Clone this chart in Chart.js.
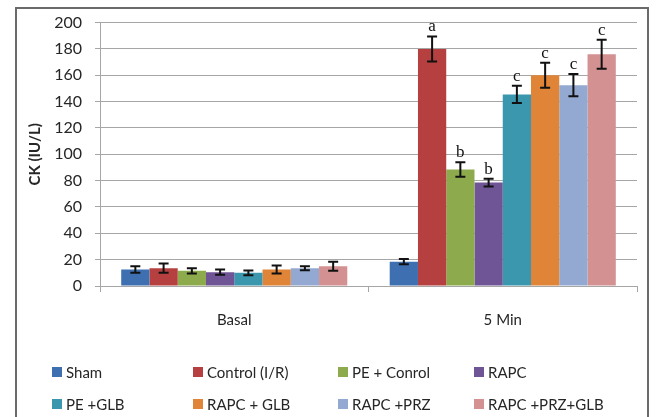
<!DOCTYPE html>
<html>
<head>
<meta charset="utf-8">
<script src="https://cdn.jsdelivr.net/npm/chart.js@4.4.1/dist/chart.umd.min.js"></script>
<style>
  html, body { margin: 0; padding: 0; background: #fff; }
  #wrap { position: relative; width: 659px; height: 417px; overflow: hidden; background: #fff; }
  #c { position: absolute; left: 0; top: 0; }
  #frame { position: absolute; left: 15px; top: 7px; width: 634px; height: 430px;
           border: 2px solid #6a6a6a; box-sizing: border-box; pointer-events: none; }
  #legend { position: absolute; left: 0; top: 0; width: 659px; height: 417px; pointer-events: none;
            font-family: Lato, "Open Sans", sans-serif; font-size: 15px; color: #262626; }
  .li { position: absolute; display: flex; align-items: center; white-space: nowrap; transform: translateY(-50%); }
  .sw { width: 10px; height: 10px; margin-right: 4px; }
</style>
</head>
<body>
<div id="wrap">
  <canvas id="c" width="659" height="417"></canvas>
  <div id="frame"></div>
  <div id="legend"></div>
</div>
<script>
// ---- data ----
const categories = ['Basal', '5 Min'];
const seriesNames = ['Sham', 'Control (I/R)', 'PE + Conrol', 'RAPC', 'PE +GLB', 'RAPC + GLB', 'RAPC +PRZ', 'RAPC +PRZ+GLB'];
const basalValues = [12.5, 13.5, 11.5, 10.5, 10, 12.5, 13.5, 15];
const basalErrors = [2.5, 3.5, 2, 2, 1.8, 3, 1.5, 3.5];
const fiveMinValues = [18.5, 180, 88.5, 78.5, 145.5, 160, 152.5, 176];
const fiveMinErrors = [2, 9.5, 5.5, 3, 6.5, 9.5, 8.5, 11];
const fiveMinLetters = ['', 'a', 'b', 'b', 'c', 'c', 'c', 'c'];
const yTicks = [0, 20, 40, 60, 80, 100, 120, 140, 160, 180, 200];
const colors = ['#3d6fb1', '#b5403f', '#8dab4d', '#6f5595', '#3a97ae', '#e08437', '#93a9d2', '#d49191'];

const datasets = seriesNames.map((name, i) => ({
  label: name,
  data: [basalValues[i], fiveMinValues[i]],
  errors: [basalErrors[i], fiveMinErrors[i]],
  letters: ['', fiveMinLetters[i]],
  backgroundColor: colors[i],
  borderWidth: 0,
  categoryPercentage: 0.842,
  barPercentage: 1.0
}));

const errorBarPlugin = {
  id: 'errorBars',
  afterDatasetsDraw(chart) {
    const ctx = chart.ctx;
    const y = chart.scales.y;
    ctx.save();
    chart.data.datasets.forEach((ds, i) => {
      const meta = chart.getDatasetMeta(i);
      meta.data.forEach((bar, j) => {
        const v = ds.data[j], e = ds.errors[j];
        const top = y.getPixelForValue(v + e);
        const bot = y.getPixelForValue(v - e);
        const x = bar.x;
        ctx.strokeStyle = '#111';
        ctx.lineWidth = 2;
        ctx.beginPath();
        ctx.moveTo(x, top); ctx.lineTo(x, bot);
        ctx.moveTo(x - 5, top); ctx.lineTo(x + 5, top);
        ctx.moveTo(x - 5, bot); ctx.lineTo(x + 5, bot);
        ctx.stroke();
        const letter = ds.letters[j];
        if (letter) {
          ctx.fillStyle = '#111';
          ctx.font = '17px "Liberation Serif", "DejaVu Serif", serif';
          ctx.textAlign = 'center';
          ctx.textBaseline = 'alphabetic';
          ctx.fillText(letter, x, top - 5);
        }
      });
    });
    ctx.restore();
  }
};

const gridColor = '#a6a6a6';
const textColor = '#262626';

new Chart(document.getElementById('c'), {
  type: 'bar',
  data: { labels: categories, datasets },
  options: {
    responsive: false,
    animation: false,
    devicePixelRatio: 1,
    layout: { padding: { left: 16, top: 22, right: 22, bottom: 91 } },
    plugins: { legend: { display: false }, tooltip: { enabled: false } },
    scales: {
      x: {
        grid: { display: true, drawOnChartArea: false, drawTicks: true, tickLength: 6, color: gridColor, offset: true },
        border: { display: true, color: gridColor, width: 1 },
        ticks: { color: textColor, font: { family: 'Lato', size: 15 }, padding: 19 },
        afterFit(scale) { scale.height = 40; }
      },
      y: {
        min: 0, max: 200,
        afterBuildTicks(scale) { scale.ticks = yTicks.map(v => ({ value: v })); },
        grid: { color: gridColor, lineWidth: 1, tickLength: 5, drawTicks: true },
        border: { display: true, color: gridColor, width: 1 },
        ticks: { color: textColor, font: { family: 'Lato', size: 16 }, padding: 13 },
        title: { display: true, text: 'CK (IU/L)', color: textColor,
                 font: { family: 'Lato', size: 15, weight: 'bold' }, padding: { top: 10, bottom: 0 } },
        afterFit(scale) { scale.width = 84; }
      }
    }
  },
  plugins: [errorBarPlugin]
});

// ---- HTML legend (4 columns x 2 rows) ----
const legendCols = [52, 193, 338, 474];
const legendRows = [372, 404];
const legend = document.getElementById('legend');
seriesNames.forEach((name, i) => {
  const d = document.createElement('div');
  d.className = 'li';
  d.style.left = legendCols[i % 4] + 'px';
  d.style.top = legendRows[Math.floor(i / 4)] + 'px';
  const sw = document.createElement('span');
  sw.className = 'sw';
  sw.style.background = colors[i];
  const t = document.createElement('span');
  t.textContent = name;
  d.appendChild(sw); d.appendChild(t);
  legend.appendChild(d);
});
</script>
</body>
</html>
